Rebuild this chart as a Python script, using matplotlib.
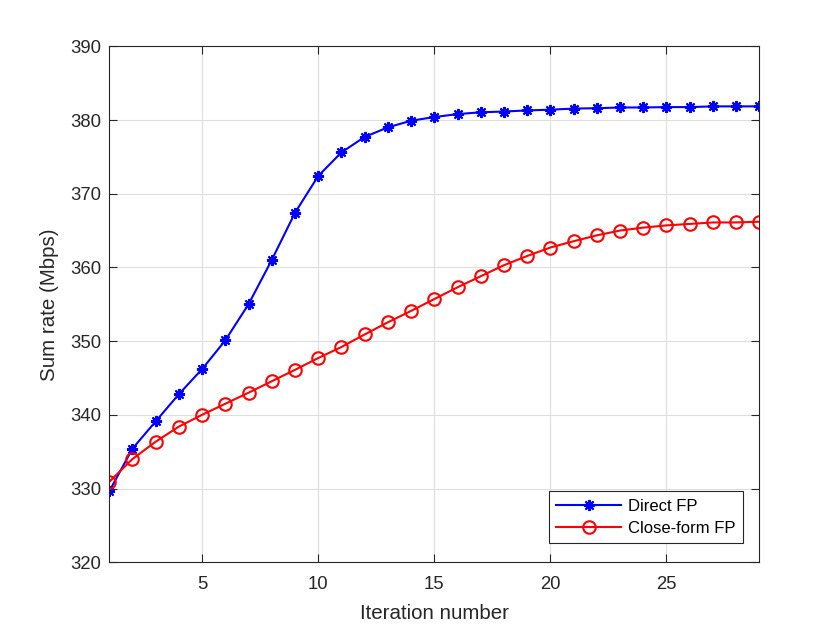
import matplotlib
matplotlib.use("Agg")
import matplotlib.pyplot as plt

iterations = list(range(1, 30))
direct_fp = [329.6, 335.4, 339.1, 342.8, 346.2, 350.1, 355.0, 361.0, 367.4, 372.4,
             375.6, 377.7, 379.0, 379.9, 380.4, 380.8, 381.05, 381.15, 381.3, 381.4,
             381.55, 381.6, 381.7, 381.7, 381.75, 381.75, 381.85, 381.85, 381.85]
close_form_fp = [330.9, 334.0, 336.35, 338.4, 340.0, 341.5, 343.0, 344.55, 346.1, 347.7,
                 349.2, 350.9, 352.55, 354.1, 355.7, 357.3, 358.8, 360.3, 361.55, 362.7,
                 363.55, 364.35, 365.0, 365.4, 365.7, 365.9, 366.1, 366.1, 366.2]
xticks = [5, 10, 15, 20, 25]
yticks = [320, 330, 340, 350, 360, 370, 380, 390]

plt.rcParams['font.family'] = ['Liberation Sans', 'DejaVu Sans']

fig = plt.figure(figsize=(8.4, 6.3), dpi=100)
ax = fig.add_axes([0.130, 0.1076, 0.774, 0.8189])

ax.plot(iterations, direct_fp, color='#0000ff', lw=1.5, marker=(8, 2, 0), markersize=8,
        markeredgewidth=1.5, label='Direct FP')
ax.plot(iterations, close_form_fp, color='#ff0000', lw=1.5, marker='o', markersize=9,
        markerfacecolor='none', markeredgewidth=1.5, label='Close-form FP')

ax.set_xlim(1, 29)
ax.set_ylim(320, 390)
ax.set_xticks(xticks)
ax.set_yticks(yticks)
ax.grid(True, color='#dedede', linewidth=0.8)
ax.set_axisbelow(True)
ax.tick_params(direction='in', top=True, right=True, labelsize=13.3, colors='#262626',
               length=6, width=0.8, pad=6)
ax.tick_params(axis='x', pad=10)
for s in ax.spines.values():
    s.set_color('#262626')
    s.set_linewidth(0.8)
ax.set_xlabel('Iteration number', fontsize=14.8, color='#262626', labelpad=8)
ax.set_ylabel('Sum rate (Mbps)', fontsize=14.8, color='#262626', labelpad=8)

leg = ax.legend(loc='lower right', bbox_to_anchor=(0.9746, 0.0372), fontsize=12,
                fancybox=False, framealpha=1, edgecolor='#262626', borderaxespad=0,
                handlelength=3.9, borderpad=0.45, labelspacing=0.4, handletextpad=0.4)
leg.get_frame().set_linewidth(0.8)

fig.savefig('out.png', dpi=100)
